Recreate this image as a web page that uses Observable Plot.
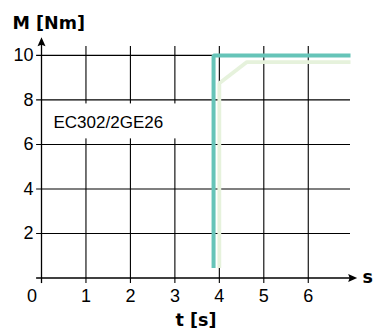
<!DOCTYPE html>
<html>
<head>
<meta charset="utf-8">
<script src="https://cdn.jsdelivr.net/npm/d3@7"></script>
<script src="https://cdn.jsdelivr.net/npm/@observablehq/plot@0.6"></script>
<style>
  html, body { margin: 0; padding: 0; background: #fff; }
  #chart svg { display: block; }
</style>
</head>
<body>
<div id="chart"></div>
<script>
// ---- data ----
const xTicks = [0, 1, 2, 3, 4, 5, 6];
const yTicks = [2, 4, 6, 8, 10];
const seriesLabel = "EC302/2GE26";
const yTitle = "M [Nm]";
const xTitle = "t [s]";
const xUnit = "s";

// teal series (time in s, torque in Nm)
const tealT = [3.87, 3.87, 6.95];
const tealM = [0.45, 10, 10];
// light green series
const lightT = [4.0, 4.0, 4.62, 6.95];
const lightM = [0.45, 8.75, 9.7, 9.7];

// ---- layout constants ----
const xMax = 6.95, yMax = 10.4;
const tickOutX = -0.11, tickOutY = -0.25;
const arrowX = 7.1, arrowY = 10.81;
const labelBox = {x1: 0.03, x2: 3.12, y1: 6.25, y2: 7.82};
const labelPos = {x: 0.27, y: 7.0};

const teal = tealT.map((t, i) => ({t, m: tealM[i]}));
const light = lightT.map((t, i) => ({t, m: lightM[i]}));

const sans = "'Liberation Sans', Arial, sans-serif";
const bold = "'DejaVu Sans', sans-serif";

const arrowHead = {
  draw(context, l) {
    context.moveTo(0, -l);
    context.lineTo(-4, 0);
    context.lineTo(0, -1.5);
    context.lineTo(4, 0);
    context.closePath();
  }
};

const chart = Plot.plot({
  width: 376,
  height: 331,
  marginLeft: 41,
  marginRight: 26,
  marginTop: 46,
  marginBottom: 53.5,
  x: {domain: [0, xMax], axis: null},
  y: {domain: [0, yMax], axis: null},
  style: {background: "#fff", color: "#000"},
  marks: [
    // grid
    Plot.ruleX(xTicks.filter(d => d !== 0), {x: d => d, y1: tickOutY, y2: yMax, stroke: "#000", strokeWidth: 1.1}),
    Plot.ruleY(yTicks, {y: d => d, x1: tickOutX, x2: xMax, stroke: "#000", strokeWidth: 1.1}),
    // label background box
    Plot.rect([labelBox], {x1: "x1", x2: "x2", y1: "y1", y2: "y2", fill: "#fff"}),
    // axes
    Plot.ruleX([0], {y1: tickOutY, y2: arrowY - 0.2, stroke: "#000", strokeWidth: 1.3}),
    Plot.ruleY([0], {x1: tickOutX, x2: arrowX - 0.1, stroke: "#000", strokeWidth: 1.3}),
    Plot.vector([{x: 0, y: arrowY, r: 0}, {x: arrowX, y: 0, r: 90}], {
      x: "x", y: "y", rotate: "r", length: 9, anchor: "end", shape: arrowHead,
      fill: "#000", stroke: "none"
    }),
    // series
    Plot.line(light, {x: "t", y: "m", stroke: "#e6f2dc", strokeWidth: 3.8, strokeLinejoin: "miter", strokeLinecap: "butt"}),
    Plot.line(teal, {x: "t", y: "m", stroke: "#66c4b8", strokeWidth: 4, strokeLinejoin: "miter", strokeLinecap: "butt"}),
    // tick labels
    Plot.text(xTicks.filter(d => d !== 0), {x: d => d, y: 0, text: d => String(d), dy: 18.5, lineAnchor: "middle", fontSize: 18, fontFamily: sans, fill: "#000"}),
    Plot.text([0], {x: d => d, y: 0, text: d => String(d), dx: -9.5, dy: 18.5, lineAnchor: "middle", fontSize: 18, fontFamily: sans, fill: "#000"}),
    Plot.text(yTicks, {x: 0, y: d => d, text: d => String(d), dx: -8, textAnchor: "end", lineAnchor: "middle", fontSize: 18, fontFamily: sans, fill: "#000"}),
    // series label
    Plot.text([labelPos], {x: "x", y: "y", text: () => seriesLabel, textAnchor: "start", lineAnchor: "middle", fontSize: 17, fontFamily: sans, fill: "#000"}),
    // titles
    Plot.text([yTitle], {frameAnchor: "top-left", text: d => d, dx: -29, dy: -18, textAnchor: "start", lineAnchor: "bottom", fontSize: 17.5, fontWeight: "bold", fontFamily: bold, fill: "#000"}),
    Plot.text([xTitle], {frameAnchor: "bottom", text: d => d, dy: 47.5, textAnchor: "middle", lineAnchor: "bottom", fontSize: 17.5, fontWeight: "bold", fontFamily: bold, fill: "#000"}),
    Plot.text([xUnit], {frameAnchor: "bottom-right", text: d => d, dx: 12, dy: 4.5, textAnchor: "start", lineAnchor: "bottom", fontSize: 17.5, fontWeight: "bold", fontFamily: bold, fill: "#000"})
  ]
});
document.getElementById("chart").appendChild(chart);
</script>
</body>
</html>
